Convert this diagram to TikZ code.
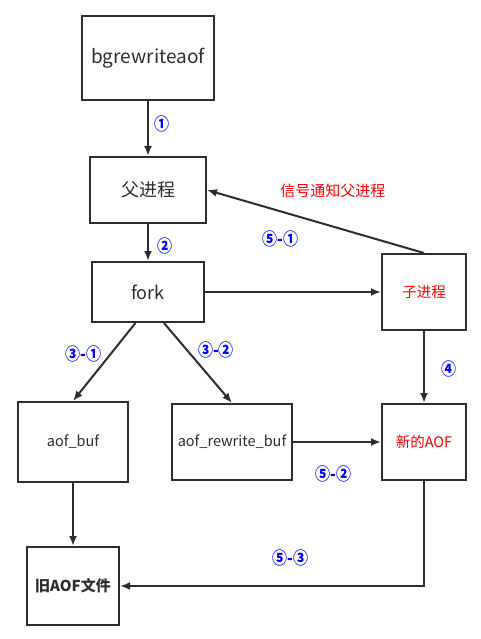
\documentclass[tikz,border=0pt]{standalone}
\usepackage{fontspec}
\setmainfont{Noto Sans CJK SC}
\usetikzlibrary{calc, arrows.meta}
\definecolor{boxgray}{RGB}{45,45,45}
\definecolor{numblue}{RGB}{0,0,255}
\definecolor{notered}{RGB}{255,0,0}

\begin{document}
\begin{tikzpicture}[x=1pt, y=-1pt,
                    process box/.style={draw=boxgray, line width=2pt, text=boxgray, inner sep=0pt, font=\fontsize{14.5}{14.5}\selectfont},
                    flow arrow/.style={-{Latex[length=10pt,width=8pt]}, line width=2pt, boxgray},
                    seq label/.style={text=numblue, font=\fontsize{15}{15}\selectfont\bfseries, inner sep=0pt, yscale=1.15},
                    signal label/.style={text=notered, font=\fontsize{15}{15}\selectfont, inner sep=0pt}]
  \useasboundingbox (0,0) rectangle (481,639);

  \node[process box, minimum width=132pt, minimum height=84pt, font=\fontsize{19}{19}\selectfont] (bgrewriteaof) at (148,58) {bgrewriteaof};
  \node[process box, minimum width=116pt, minimum height=66pt, font=\fontsize{18}{18}\selectfont] (parent) at (148,190) {父进程};
  \node[process box, minimum width=112pt, minimum height=60pt, font=\fontsize{18}{18}\selectfont] (fork) at (148,292) {fork};
  \node[process box, minimum width=84pt, minimum height=76pt, text=notered] (child) at (424,292) {子进程};
  \node[process box, minimum width=110pt, minimum height=80pt] (aofbuf) at (73,442) {aof\_buf};
  \node[process box, minimum width=120pt, minimum height=76pt] (rewritebuf) at (232,442) {aof\_rewrite\_buf};
  \node[process box, minimum width=84pt, minimum height=76pt, text=notered] (newaof) at (424,442) {新的AOF};
  \node[process box, minimum width=92pt, minimum height=78pt, font=\fontsize{15}{15}\selectfont\bfseries] (oldaof) at (73,586) {旧AOF文件};

  \draw[flow arrow] (bgrewriteaof.south) -- node[seq label, pos=0.42, right=5pt] {①} (parent.north);
  \draw[flow arrow] (parent.south) -- node[seq label, pos=0.59, right=8pt] {②} (fork.north);
  \draw[flow arrow] (fork.east) -- (child.west);

  \draw[flow arrow] (child.north) -- node[signal label, pos=0.42, above=28pt] {信号通知父进程}
                                     node[seq label, pos=0.66, below=16pt] {⑤-①} (parent.east);

  \draw[flow arrow] ($ (fork.south west) ! 0.39 ! (fork.south east) $) -- node[seq label, pos=0.4, left=8pt] {③-①} (aofbuf.north);
  \draw[flow arrow] ($ (fork.south west) ! 0.64 ! (fork.south east) $) -- node[seq label, pos=0.34, right=10pt] {③-②} (rewritebuf.north);

  \draw[flow arrow] (child.south) -- node[seq label, pos=0.53, right=16pt] {④} (newaof.north);
  \draw[flow arrow] (rewritebuf.east) -- node[seq label, pos=0.46, below=20pt] {⑤-②} (newaof.west);
  \draw[flow arrow] (aofbuf.south) -- (oldaof.north);

  \draw[flow arrow] (newaof.south) |- node[seq label, pos=0.72, above=16pt] {⑤-③} (oldaof.east);
\end{tikzpicture}
\end{document}
